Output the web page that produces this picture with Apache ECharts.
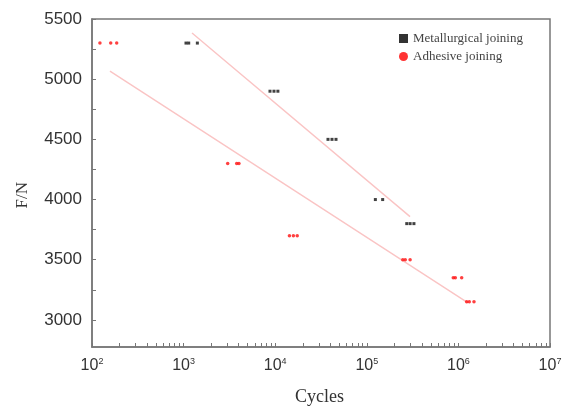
<!DOCTYPE html>
<html>
<head>
<meta charset="utf-8">
<script src="https://cdn.jsdelivr.net/npm/echarts@6/dist/echarts.min.js"></script>
<style>html,body{margin:0;padding:0;background:#fff}#c{width:570px;height:410px}</style>
</head>
<body>
<div id="c"></div>
<script>
// Metallurgical joining (cycles, force)
const metalCycles = [1062, 1137, 1413, 8770, 9700, 10700, 37700, 41700, 46100, 124000, 149000, 273000, 297000, 327000];
const metalForce  = [5300, 5300, 5300, 4900, 4900, 4900, 4500, 4500, 4500, 4000, 4000, 3800, 3800, 3800];
// Adhesive joining
const adhCycles = [122, 160, 186, 3030, 3800, 4020, 14300, 15800, 17400, 247000, 263000, 297000, 879000, 925000, 1086000, 1230000, 1315000, 1480000];
const adhForce  = [5300, 5300, 5300, 4300, 4300, 4300, 3700, 3700, 3700, 3500, 3500, 3500, 3350, 3350, 3350, 3150, 3150, 3150];
// Fit lines
const metalFitCycles = [1236, 296500];
const metalFitForce  = [5383, 3858];
const adhFitCycles = [157, 1274000];
const adhFitForce  = [5067, 3142];
// Axis ticks
const yTicks = [3000, 3500, 4000, 4500, 5000, 5500];
const yMinorTicks = [3000, 3250, 3500, 3750, 4000, 4250, 4500, 4750, 5000, 5250, 5500];
const xDecades = [100, 1000, 10000, 100000, 1000000, 10000000];
const xTickValues = [];
for (let d = 100; d < 1e7; d *= 10) for (let k = 1; k <= 9; k++) xTickValues.push(d * k);
xTickValues.push(1e7);

const zip = (a, b) => a.map((v, i) => [v, b[i]]);
const chart = echarts.init(document.getElementById('c'), null, {renderer: 'canvas'});
const axisColor = '#777';
chart.setOption({
  animation: false,
  backgroundColor: '#fff',
  grid: {left: 92, right: 20, top: 19, bottom: 63, show: true, borderColor: axisColor, borderWidth: 1.5},
  legend: {
    orient: 'vertical', left: 394, top: 27, itemGap: 5, itemWidth: 9, itemHeight: 9,
    textStyle: {fontFamily: 'Liberation Serif', fontSize: 13, color: '#444'},
    data: [{name: 'Metallurgical joining', icon: 'rect', itemStyle: {color: '#000'}},
           {name: 'Adhesive joining', icon: 'circle', itemStyle: {color: '#ff0000'}}]
  },
  xAxis: {
    type: 'log', logBase: 10, min: 100, max: 1e7,
    axisLine: {lineStyle: {color: axisColor, width: 1.5}},
    axisTick: {inside: true, length: 4, customValues: xTickValues, lineStyle: {color: axisColor}},
    axisLabel: {
      margin: 10, customValues: xDecades,
      formatter: v => '{b|10}{s|' + Math.round(Math.log10(v)) + '}',
      rich: {
        b: {fontFamily: 'Liberation Sans', fontSize: 16, color: '#333'},
        s: {fontFamily: 'Liberation Sans', fontSize: 9, color: '#333', verticalAlign: 'top', padding: [0, 0, 8, 0]}
      }
    },
    splitLine: {show: false}
  },
  yAxis: {
    type: 'value', min: 2775, max: 5500,
    axisLine: {show: true, lineStyle: {color: axisColor, width: 1.5}},
    axisTick: {show: true, inside: true, length: 4, customValues: yMinorTicks, lineStyle: {color: axisColor}},
    axisLabel: {customValues: yTicks, margin: 10, fontFamily: 'Liberation Sans', fontSize: 17, color: '#333',
      formatter: v => String(v)},
    splitLine: {show: false}
  },
  graphic: [
    {type: 'text', left: 14, top: 182, rotation: Math.PI / 2,
      style: {text: 'F/N', font: '17px "Liberation Serif"', fill: '#333'}},
    {type: 'text', left: 295, top: 388,
      style: {text: 'Cycles', font: '18px "Liberation Serif"', fill: '#333'}}
  ],
  series: [
    {name: 'metalFit', type: 'line', data: zip(metalFitCycles, metalFitForce), symbol: 'none',
      lineStyle: {color: '#fac4c4', width: 1.4}, z: 1, silent: true},
    {name: 'adhFit', type: 'line', data: zip(adhFitCycles, adhFitForce), symbol: 'none',
      lineStyle: {color: '#fac4c4', width: 1.4}, z: 1, silent: true},
    {name: 'Metallurgical joining', type: 'scatter', data: zip(metalCycles, metalForce),
      symbol: 'rect', symbolSize: 3, itemStyle: {color: '#111'}, z: 3},
    {name: 'Adhesive joining', type: 'scatter', data: zip(adhCycles, adhForce),
      symbol: 'circle', symbolSize: 3.5, itemStyle: {color: '#ff1010'}, z: 3}
  ]
});
</script>
</body>
</html>
